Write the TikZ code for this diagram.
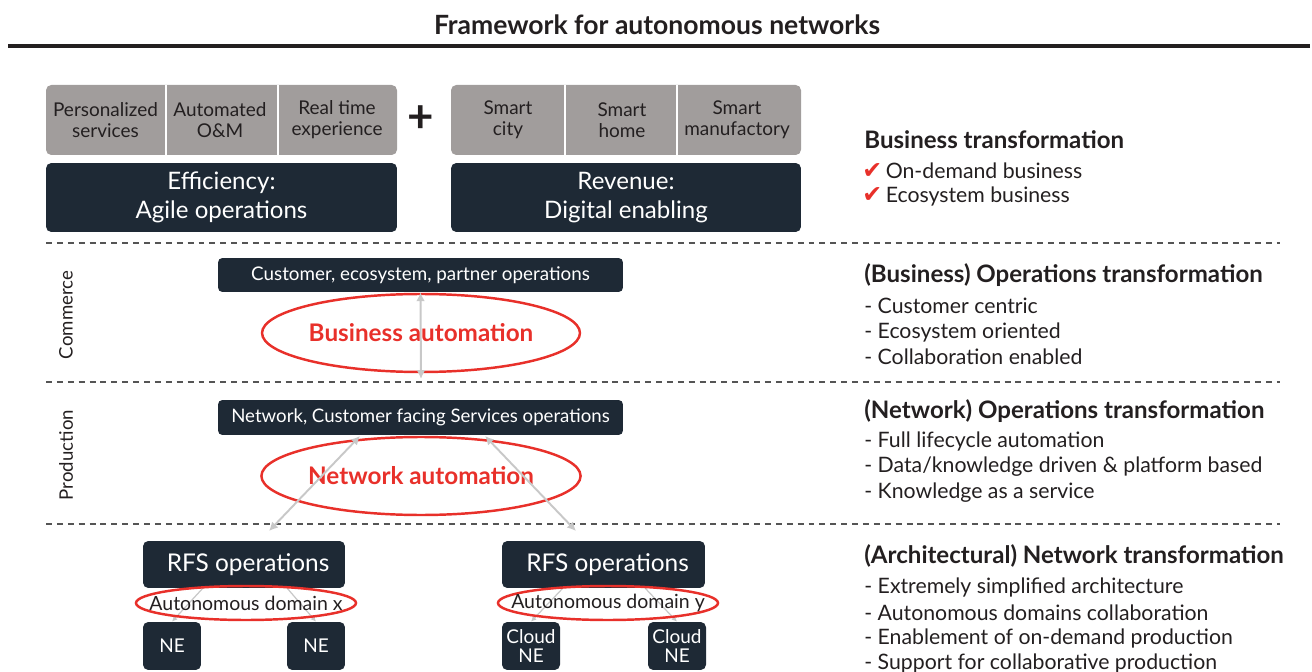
\documentclass[tikz,border=0pt]{standalone}
\usepackage{fontspec}
\setmainfont{Lato}
\newfontfamily\symfont{DejaVu Sans}
\usetikzlibrary{shapes.geometric,arrows.meta}

\definecolor{navy}{HTML}{1E2935}
\definecolor{stone}{HTML}{A19D9C}
\definecolor{alert}{HTML}{E8302A}
\definecolor{ink}{HTML}{231F20}
\definecolor{wire}{HTML}{C8C8C8}
\definecolor{rule}{HTML}{555555}

\begin{document}
\begin{tikzpicture}[x=0.02cm,y=-0.02cm,
    darkbox/.style={fill=navy,rounded corners=3pt,text=white,align=center,inner sep=0pt},
    stonetxt/.style={text=ink,align=center,inner sep=0pt,font=\fontsize{10.8}{12}\selectfont},
    redring/.style={ellipse,draw=alert,line width=1.4pt,inner sep=0pt},
    domring/.style={redring,inner xsep=-0.42cm,minimum width=4.4cm,minimum height=0.68cm,text=ink,font=\fontsize{11.1}{12}\selectfont},
    sep/.style={rule,dashed,dash pattern=on 3.4pt off 2.8pt,line width=0.6pt},
    link/.style={wire,line width=1.1pt,{Latex[length=5pt,width=5pt]}-{Latex[length=5pt,width=5pt]}},
    thin link/.style={wire,line width=0.7pt,-{Latex[length=3pt,width=3pt]}},
    head/.style={anchor=west,inner sep=0pt,text=ink,font=\bfseries\fontsize{13.7}{15}\selectfont},
    item/.style={anchor=west,inner sep=0pt,text=ink,font=\fontsize{12.1}{14}\selectfont},
    side/.style={rotate=90,inner sep=0pt,text=ink,font=\fontsize{10.6}{12}\selectfont}]
  \useasboundingbox (0,0) rectangle (1312,672);

  % title
  \node[inner sep=0pt,text=ink,font=\bfseries\fontsize{15.1}{17}\selectfont] (title) at (657,25) {Framework for autonomous networks};
  \draw[ink,line width=2pt] (8,46) -- (1310,46);

  % business layer
  \fill[stone,rounded corners=3pt] (46,85) rectangle (397,155);
  \fill[stone,rounded corners=3pt] (451,85) rectangle (801,155);
  \draw[white,line width=1.2pt] (166,85) -- (166,155) (278,85) -- (278,155)
    (565,85) -- (565,155) (677,85) -- (677,155);
  \node[stonetxt] (pers) at (105.5,120) {Personalized\\services};
  \node[stonetxt] (om) at (220,120) {Automated\\O\&M};
  \node[stonetxt] (rt) at (337,120) {Real time\\experience};
  \node[stonetxt] (city) at (508,120) {Smart\\city};
  \node[stonetxt] (home) at (622,120) {Smart\\home};
  \node[stonetxt] (manu) at (737,120) {Smart\\manufactory};
  \node[inner sep=0pt,text=ink,font=\bfseries\fontsize{26}{26}\selectfont] (plus) at (421,119) {+};
  \node[darkbox,minimum width=7.02cm,minimum height=1.38cm,font=\fontsize{13.7}{16.5}\selectfont] (eff) at (221.5,197.5) {Efficiency:\\Agile operations};
  \node[darkbox,minimum width=7.0cm,minimum height=1.38cm,font=\fontsize{13.7}{16.5}\selectfont] (rev) at (626,197.5) {Revenue:\\Digital enabling};

  \draw[sep] (46,243) -- (1280,243);
  \draw[sep] (46,382) -- (1280,382);
  \draw[sep] (46,524) -- (1280,524);

  \node[side] (comm) at (66,315) {Commerce};
  \node[side] (prod) at (66,455) {Production};

  % operations layers
  \node[darkbox,rounded corners=2.5pt,minimum width=8.1cm,minimum height=0.68cm,font=\fontsize{10.7}{12}\selectfont] (cust) at (420.5,275) {Customer, ecosystem, partner operations};
  \node[redring,minimum width=6.36cm,minimum height=1.56cm,text=alert,font=\bfseries\fontsize{13.8}{15}\selectfont] (bauto) at (421,333) {Business automation};
  \coordinate (bend) at (421,379);
  \draw[link] (cust.south) -- (bend);

  \node[darkbox,rounded corners=2.5pt,minimum width=8.1cm,minimum height=0.7cm,font=\fontsize{10.6}{12}\selectfont] (net) at (420.5,417.5) {Network, Customer facing Services operations};
  \node[redring,minimum width=6.36cm,minimum height=1.56cm,text=alert,font=\bfseries\fontsize{13.8}{15}\selectfont] (nauto) at (421,476) {Network automation};
  \coordinate (nl) at (360,436);
  \coordinate (nr) at (485,436);
  \coordinate (xl) at (269,531);
  \coordinate (xr) at (576,531);
  \draw[link] (nl) -- (xl);
  \draw[link] (nr) -- (xr);

  % network layer
  \node[darkbox,minimum width=4.04cm,minimum height=0.94cm,font=\fontsize{13.9}{15}\selectfont] (rfsx) at (244,564.5) {\,\,RFS operations};
  \node[darkbox,minimum width=4.06cm,minimum height=0.94cm,font=\fontsize{13.9}{15}\selectfont] (rfsy) at (603.5,564.5) {\,\,RFS operations};
  \node[darkbox,minimum width=1.16cm,minimum height=0.96cm,font=\fontsize{10.8}{11}\selectfont] (ne1) at (172,646) {NE};
  \node[darkbox,minimum width=1.16cm,minimum height=0.96cm,font=\fontsize{10.8}{11}\selectfont] (ne2) at (316,646) {NE};
  \node[darkbox,minimum width=1.16cm,minimum height=0.96cm,font=\fontsize{10.8}{11}\selectfont] (cne1) at (531,646) {Cloud\\NE};
  \node[darkbox,minimum width=1.16cm,minimum height=0.96cm,font=\fontsize{10.8}{11}\selectfont] (cne2) at (677,646) {Cloud\\NE};
  \draw[thin link] (203,588) -- (ne1.north);
  \draw[thin link] (287,588) -- (ne2.north);
  \draw[thin link] (563,588) -- (cne1.north);
  \draw[thin link] (645,588) -- (cne2.north);
  \node[domring] (domx) at (246,603) {Autonomous domain x};
  \node[domring] (domy) at (608,603) {Autonomous domain y};

  % right column
  \node[head] (h1) at (864,140) {Business transformation};
  \node[item] (b1) at (862,171) {{\symfont\color{alert}\fontsize{13.5}{14}\selectfont ✔}\,On-demand business};
  \node[item] (b2) at (862,196) {{\symfont\color{alert}\fontsize{13.5}{14}\selectfont ✔}\,Ecosystem business};

  \node[head] (h2) at (864,275) {(Business) Operations transformation};
  \node[item] (o1) at (864,306) {- Customer centric};
  \node[item] (o2) at (864,332) {- Ecosystem oriented};
  \node[item] (o3) at (864,357) {- Collaboration enabled};

  \node[head] (h3) at (864,411) {(Network) Operations transformation};
  \node[item] (n1) at (864,441) {- Full lifecycle automation};
  \node[item] (n2) at (864,467) {- Data/knowledge driven \& platform based};
  \node[item] (n3) at (864,493) {- Knowledge as a service};

  \node[head] (h4) at (864,556) {(Architectural) Network transformation};
  \node[item] (a1) at (864,587) {- Extremely simplified architecture};
  \node[item] (a2) at (864,613) {- Autonomous domains collaboration};
  \node[item] (a3) at (864,638) {- Enablement of on-demand production};
  \node[item] (a4) at (864,663) {- Support for collaborative production};
\end{tikzpicture}
\end{document}
